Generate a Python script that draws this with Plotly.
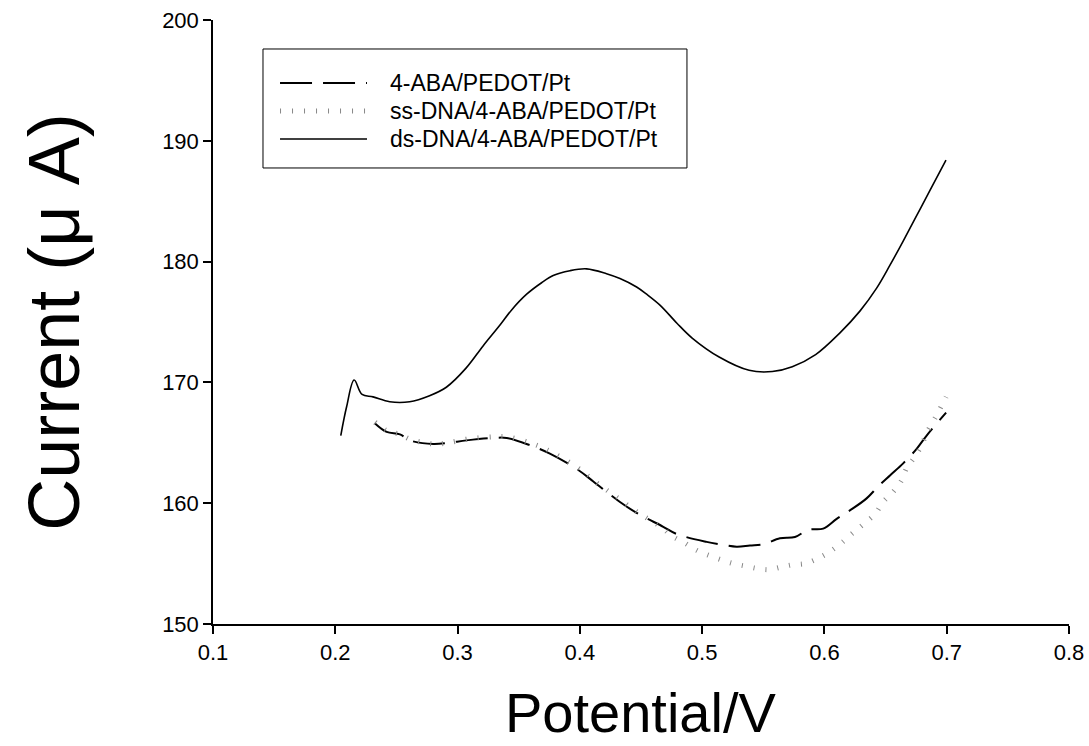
import plotly.graph_objects as go

# ---- data ----
x_aba = [0.2325, 0.242, 0.2529, 0.261, 0.2801, 0.2924, 0.3074, 0.3292, 0.3401, 0.3592,
         0.3755, 0.3987, 0.411, 0.4328, 0.4464, 0.4682, 0.4791, 0.5037, 0.5146, 0.5282,
         0.5391, 0.55, 0.5636, 0.5759, 0.5868, 0.599, 0.61, 0.6208, 0.6345, 0.644,
         0.6536, 0.6644, 0.6754, 0.6836, 0.6995]
y_aba = [166.6, 165.9, 165.7, 165.2, 164.9, 165.0, 165.2, 165.4, 165.4, 164.8,
         164.1, 162.75, 161.8, 160.1, 159.2, 158.05, 157.45, 156.8, 156.6, 156.4,
         156.5, 156.6, 157.1, 157.2, 157.8, 157.9, 158.7, 159.4, 160.4, 161.4,
         162.3, 163.3, 164.5, 165.6, 167.5]

x_ss = [0.2325, 0.242, 0.2529, 0.261, 0.2801, 0.2924, 0.3074, 0.3292, 0.3401, 0.3592,
        0.3755, 0.3987, 0.411, 0.4328, 0.4464, 0.4682, 0.475, 0.4859, 0.4955, 0.505,
        0.516, 0.5254, 0.535, 0.5446, 0.5546, 0.5642, 0.5737, 0.584, 0.5941, 0.6031,
        0.6127, 0.6222, 0.6317, 0.6413, 0.648, 0.6563, 0.6631, 0.6672, 0.674, 0.6795,
        0.6836, 0.6918, 0.6995]
y_ss = [166.7, 166.0, 165.7, 165.3, 164.9, 165.0, 165.3, 165.5, 165.5, 165.0,
        164.3, 162.9, 161.9, 160.3, 159.3, 157.9, 157.3, 156.7, 156.1, 155.7,
        155.3, 155.0, 154.8, 154.6, 154.5, 154.7, 154.9, 155.0, 155.4, 155.9,
        156.6, 157.45, 158.25, 159.1, 160.1, 160.95, 161.9, 162.9, 163.85, 164.8,
        165.8, 167.3, 168.8]

x_ds = [0.2045, 0.2093, 0.2154, 0.2219, 0.2309, 0.2445, 0.2608, 0.2771, 0.2908, 0.3071,
        0.3207, 0.3347, 0.3442, 0.3565, 0.3687, 0.3782, 0.3919, 0.4055, 0.4218, 0.4328,
        0.4464, 0.4546, 0.4655, 0.4794, 0.4921, 0.5139, 0.5384, 0.5574, 0.5737, 0.5928,
        0.6127, 0.629, 0.6427, 0.6536, 0.6644, 0.6754, 0.6863, 0.6994]
y_ds = [165.6, 168.0, 170.2, 169.0, 168.8, 168.4, 168.4, 168.9, 169.6, 171.2,
        173.0, 174.75, 176.0, 177.3, 178.25, 178.85, 179.25, 179.4, 179.0, 178.6,
        177.9, 177.3, 176.4, 174.9, 173.65, 172.1, 171.0, 170.9, 171.3, 172.3,
        174.1, 175.9, 177.8, 179.7, 181.7, 183.8, 185.9, 188.4]

names = ["4-ABA/PEDOT/Pt", "ss-DNA/4-ABA/PEDOT/Pt", "ds-DNA/4-ABA/PEDOT/Pt"]
x_ticks = [0.1, 0.2, 0.3, 0.4, 0.5, 0.6, 0.7, 0.8]
y_ticks = [150, 160, 170, 180, 190, 200]
x_title = "Potential/V"
y_title = "Current (μ A)"

FONT = "Liberation Sans, Arial, sans-serif"
styles = [
    dict(color="black", width=2, dash="32px,11px"),
    dict(color="#888888", width=5, dash="1px,11px"),
    dict(color="black", width=1.6),
]

fig = go.Figure()
for xs, ys, nm, st in zip([x_aba, x_ss, x_ds], [y_aba, y_ss, y_ds], names, styles):
    fig.add_trace(go.Scatter(x=xs, y=ys, mode="lines", name=nm, line=st,
                             line_shape="spline", showlegend=False))

# ---- manual legend (box, samples, labels) ----
L0, L1 = 0.0584, 0.5537
B0, B1 = 0.755, 0.952
rows = [0.8957, 0.8493, 0.803]
fig.add_shape(type="rect", xref="paper", yref="paper", x0=L0, x1=L1, y0=B0, y1=B1,
              line=dict(color="black", width=1), fillcolor="white", layer="below")
for r, nm, st in zip(rows, names, styles):
    fig.add_shape(type="line", xref="paper", yref="paper", x0=0.0783, x1=0.1799,
                  y0=r, y1=r, line=dict(color=st["color"], width=st["width"],
                                        dash=st.get("dash", "solid")))
    fig.add_annotation(xref="paper", yref="paper", x=0.2044, y=r, text=nm,
                       showarrow=False, xanchor="left", yanchor="middle",
                       font=dict(family=FONT, size=23, color="black"))

# ---- axis titles ----
fig.add_annotation(xref="paper", yref="paper", x=0.499, y=-0.147, text=x_title,
                   showarrow=False, xanchor="center", yanchor="middle",
                   font=dict(family=FONT, size=56, color="black"))
fig.add_annotation(xref="paper", yref="paper", x=-0.186, y=0.5, text=y_title,
                   showarrow=False, xanchor="center", yanchor="middle", textangle=-90,
                   font=dict(family=FONT, size=72, color="black"))

fig.update_layout(
    width=1089, height=746,
    margin=dict(l=213, r=20, t=20, b=122),
    plot_bgcolor="white", paper_bgcolor="white",
    font=dict(family=FONT, color="black"),
)
fig.update_xaxes(range=[0.1, 0.8], tickvals=x_ticks, ticktext=[f"{v:.1f}" for v in x_ticks],
                 showline=True, linecolor="black", linewidth=1.5, mirror=False,
                 ticks="outside", ticklen=8, tickwidth=1.5, tickcolor="black",
                 showgrid=False, zeroline=False, tickfont=dict(size=22, family=FONT),
                 automargin=False, ticklabeloverflow="allow")
fig.update_yaxes(range=[150, 200], tickvals=y_ticks,
                 showline=True, linecolor="black", linewidth=1.5, mirror=False,
                 ticks="outside", ticklen=8, tickwidth=1.5, tickcolor="black",
                 showgrid=False, zeroline=False, tickfont=dict(size=22, family=FONT),
                 automargin=False, ticklabeloverflow="allow")

fig.write_html("out.html", config={"displayModeBar": False},
               post_script="document.body.style.margin='0';document.body.style.overflow='hidden';")
